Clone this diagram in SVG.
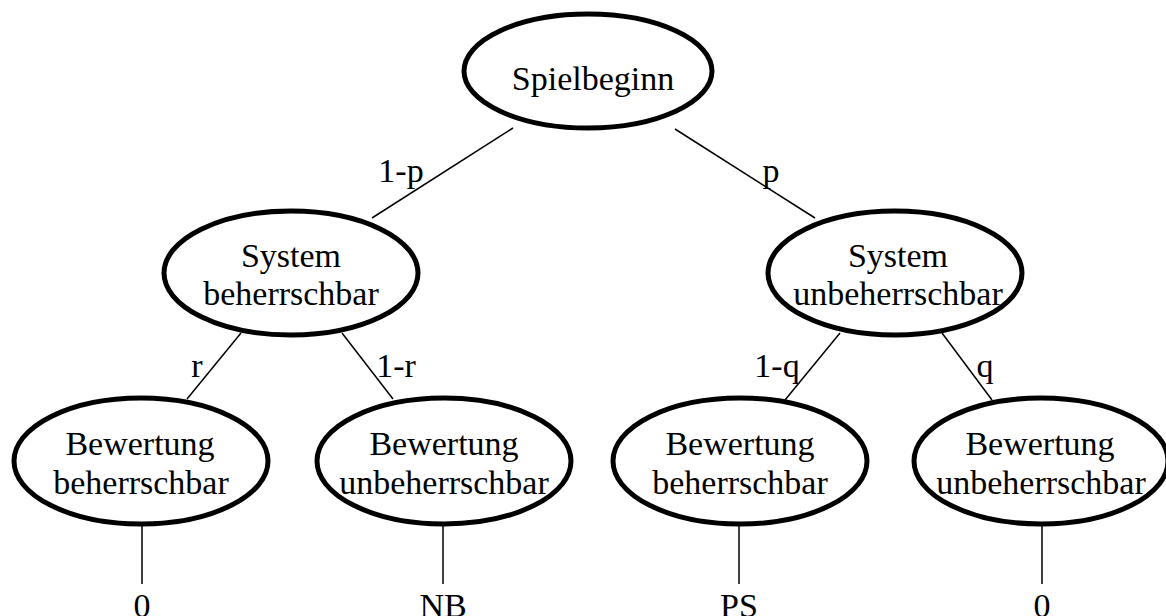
<svg xmlns="http://www.w3.org/2000/svg" width="1166" height="616" viewBox="0 0 1166 616">
  <style>
    .node ellipse { fill: #ffffff; stroke: #000000; stroke-width: 5; }
    .node text, .lbl, .val { font-family: "Liberation Serif", "Times New Roman", serif; font-size: 34px; fill: #000000; text-anchor: middle; }
    .edges line { stroke: #000000; stroke-width: 1.5; }
  </style>
  <rect width="1166" height="616" fill="#ffffff"/>

  <!-- connectors -->
  <g id="edges" class="edges">
    <line x1="513" y1="128" x2="372" y2="218"/>
    <line x1="675" y1="129" x2="815" y2="218"/>
    <line x1="241" y1="333" x2="187" y2="399"/>
    <line x1="342" y1="333" x2="393" y2="399"/>
    <line x1="840" y1="333" x2="785" y2="400"/>
    <line x1="942" y1="333" x2="992" y2="400"/>
    <line x1="142" y1="526" x2="142" y2="584"/>
    <line x1="443" y1="526" x2="443" y2="584"/>
    <line x1="739" y1="526" x2="739" y2="584"/>
    <line x1="1042" y1="526" x2="1042" y2="584"/>
  </g>

  <!-- edge probabilities -->
  <g id="edge-labels">
    <text class="lbl" x="401" y="182">1-p</text>
    <text class="lbl" x="771" y="182">p</text>
    <text class="lbl" x="197" y="377">r</text>
    <text class="lbl" x="396" y="377">1-r</text>
    <text class="lbl" x="777" y="377">1-q</text>
    <text class="lbl" x="985" y="377">q</text>
  </g>

  <g id="n-start" class="node">
    <ellipse cx="588" cy="71" rx="124" ry="57"/>
    <text x="593" y="90">Spielbeginn</text>
  </g>

  <g id="n-sys-b" class="node">
    <ellipse cx="291" cy="273" rx="127" ry="62"/>
    <text x="291" y="267">System</text>
    <text x="291" y="305">beherrschbar</text>
  </g>

  <g id="n-sys-u" class="node">
    <ellipse cx="895" cy="273" rx="127" ry="62"/>
    <text x="898" y="267">System</text>
    <text x="898" y="305">unbeherrschbar</text>
  </g>

  <g id="n-bw-1" class="node">
    <ellipse cx="141" cy="461" rx="127" ry="63"/>
    <text x="140" y="455">Bewertung</text>
    <text x="141" y="494">beherrschbar</text>
  </g>

  <g id="n-bw-2" class="node">
    <ellipse cx="444" cy="461" rx="127" ry="63"/>
    <text x="444" y="455">Bewertung</text>
    <text x="444" y="494">unbeherrschbar</text>
  </g>

  <g id="n-bw-3" class="node">
    <ellipse cx="740" cy="461" rx="127" ry="63"/>
    <text x="740" y="455">Bewertung</text>
    <text x="740" y="494">beherrschbar</text>
  </g>

  <g id="n-bw-4" class="node">
    <ellipse cx="1041" cy="461" rx="127" ry="63"/>
    <text x="1040" y="455">Bewertung</text>
    <text x="1041" y="494">unbeherrschbar</text>
  </g>

  <!-- payoffs -->
  <g id="payoffs">
    <text class="val" x="142" y="617">0</text>
    <text class="val" x="443" y="617">NB</text>
    <text class="val" x="739" y="617">PS</text>
    <text class="val" x="1042" y="617">0</text>
  </g>
</svg>
